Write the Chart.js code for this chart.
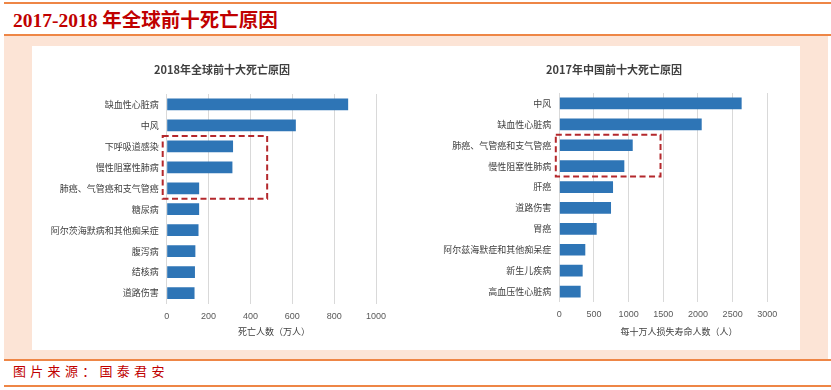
<!DOCTYPE html>
<html><head><meta charset="utf-8">
<script src="https://cdn.jsdelivr.net/npm/chart.js@4/dist/chart.umd.min.js"></script>
<style>
html,body{margin:0;padding:0;background:#fff;width:831px;height:390px;overflow:hidden;position:relative;font-family:'Noto Sans CJK SC',sans-serif}
.ln{position:absolute;left:4px;right:0;height:2px;background:#ee8646}
#peach{position:absolute;left:4px;top:36px;width:824px;height:323px;background:#fce4d6}
#panel{position:absolute;left:32px;top:46px;width:768px;height:304px;background:#fff}
#title{position:absolute;left:13px;top:9px;font-weight:bold;font-size:19.5px;font-family:'Liberation Serif','Noto Sans CJK SC',serif;color:#c00000;line-height:24px;white-space:nowrap}
#src{position:absolute;left:13px;top:362px;font-size:13px;font-family:'Noto Sans CJK SC',sans-serif;letter-spacing:4.3px;color:#c00000;line-height:18px;white-space:nowrap}
canvas{position:absolute}
</style></head>
<body>
<div class="ln" style="top:2px"></div>
<div id="title">2017-2018 年全球前十死亡原因</div>
<div class="ln" style="top:34px"></div>
<div id="peach"></div>
<div id="panel"></div>
<div class="ln" style="top:359px"></div>
<div id="src">图片来源：国泰君安</div>
<div class="ln" style="top:385px"></div>
<canvas id="c1" width="384" height="304" style="left:32px;top:46px"></canvas>
<canvas id="c2" width="384" height="304" style="left:416px;top:46px"></canvas>
<script>
// ---- data ----
const categories2018 = ['缺血性心脏病','中风','下呼吸道感染','慢性阻塞性肺病','肺癌、气管癌和支气管癌','糖尿病','阿尔茨海默病和其他痴呆症','腹泻病','结核病','道路伤害'];
const deaths2018 = [867, 617, 317, 314, 155, 155, 152, 137, 135, 133];
const ticks2018 = [0, 200, 400, 600, 800, 1000];

const categories2017 = ['中风','缺血性心脏病','肺癌、气管癌和支气管癌','慢性阻塞性肺病','肝癌','道路伤害','胃癌','阿尔兹海默症和其他痴呆症','新生儿疾病','高血压性心脏病'];
const yll2017 = [2630, 2054, 1059, 938, 775, 746, 539, 375, 337, 308];
const ticks2017 = [0, 500, 1000, 1500, 2000, 2500, 3000];

const title2018 = '2018年全球前十大死亡原因';
const axis2018 = '死亡人数（万人）';
const title2017 = '2017年中国前十大死亡原因';
const axis2017 = '每十万人损失寿命人数（人）';

// ---- plugin: dashed highlight box + titles ----
const overlay = {
  id: 'overlay',
  afterDatasetsDraw(chart, args, o) {
    const ctx = chart.ctx, x = chart.scales.x, y = chart.scales.y;
    const band = Math.abs(y.getPixelForValue(1) - y.getPixelForValue(0));
    const top = y.getPixelForValue(o.from) - band / 2;
    const bottom = y.getPixelForValue(o.to) + band / 2;
    const left = x.getPixelForValue(0) - o.gap;
    const right = x.getPixelForValue(o.xEnd);
    ctx.save();
    ctx.strokeStyle = '#b4282c';
    ctx.lineWidth = 2;
    ctx.setLineDash([6, 3.5]);
    ctx.strokeRect(left, top, right - left, bottom - top);
    ctx.restore();
  },
  afterDraw(chart, args, o) {
    const ctx = chart.ctx;
    ctx.save();
    ctx.textAlign = 'center';
    ctx.textBaseline = 'middle';
    (o.texts || []).forEach(t => {
      ctx.font = t.font;
      ctx.fillStyle = t.color;
      ctx.fillText(t.text, t.x, t.y);
    });
    ctx.restore();
  }
};

function makeChart(id, labels, values, ticks, yWidth, xHeight, pad, tickPad, box, texts) {
  return new Chart(document.getElementById(id), {
    type: 'bar',
    data: { labels, datasets: [{ data: values, backgroundColor: '#2e75b6', borderWidth: 0, categoryPercentage: 1, barPercentage: 0.56 }] },
    options: {
      indexAxis: 'y',
      responsive: false,
      animation: false,
      devicePixelRatio: 1,
      layout: { padding: pad },
      plugins: { legend: { display: false }, tooltip: { enabled: false }, title: { display: false }, overlay: Object.assign({}, box, { texts }) },
      scales: {
        x: {
          min: ticks[0], max: ticks[ticks.length - 1],
          afterBuildTicks: s => { s.ticks = ticks.map(v => ({ value: v })); },
          afterFit: s => { s.height = xHeight; s.paddingLeft = 0; s.paddingRight = 0; },
          grid: { color: '#d9d9d9', lineWidth: 1, drawTicks: false },
          border: { display: false },
          ticks: { color: '#595959', padding: tickPad, callback: v => String(v), font: { family: "'Liberation Sans', Arial, sans-serif", size: 9 } }
        },
        y: {
          afterFit: s => { s.width = yWidth; s.paddingTop = 0; s.paddingBottom = 0; },
          grid: { display: false, drawTicks: false },
          border: { display: false },
          ticks: { color: '#404040', padding: 8, font: { family: "'Noto Sans CJK SC', sans-serif", size: 9 } }
        }
      }
    },
    plugins: [overlay]
  });
}

makeChart('c1', categories2018, deaths2018, ticks2018, 134.7, 46.5,
  { top: 48, right: 40, left: 0, bottom: 0 }, 8,
  { from: 2, to: 4, xEnd: 480, gap: 4 },
  [
    { text: title2018, x: 190, y: 24, font: "bold 11px 'Noto Sans CJK SC', sans-serif", color: '#404040' },
    { text: axis2018, x: 242, y: 286, font: "9px 'Noto Sans CJK SC', sans-serif", color: '#404040' }
  ]);

makeChart('c2', categories2017, yll2017, ticks2017, 143.3, 48,
  { top: 47, right: 32.7, left: 0, bottom: 0 }, 7,
  { from: 2, to: 3, xEnd: 1460, gap: 3.5 },
  [
    { text: title2017, x: 198, y: 24, font: "bold 11px 'Noto Sans CJK SC', sans-serif", color: '#404040' },
    { text: axis2017, x: 263, y: 286, font: "9px 'Noto Sans CJK SC', sans-serif", color: '#404040' }
  ]);
</script>
</body></html>
